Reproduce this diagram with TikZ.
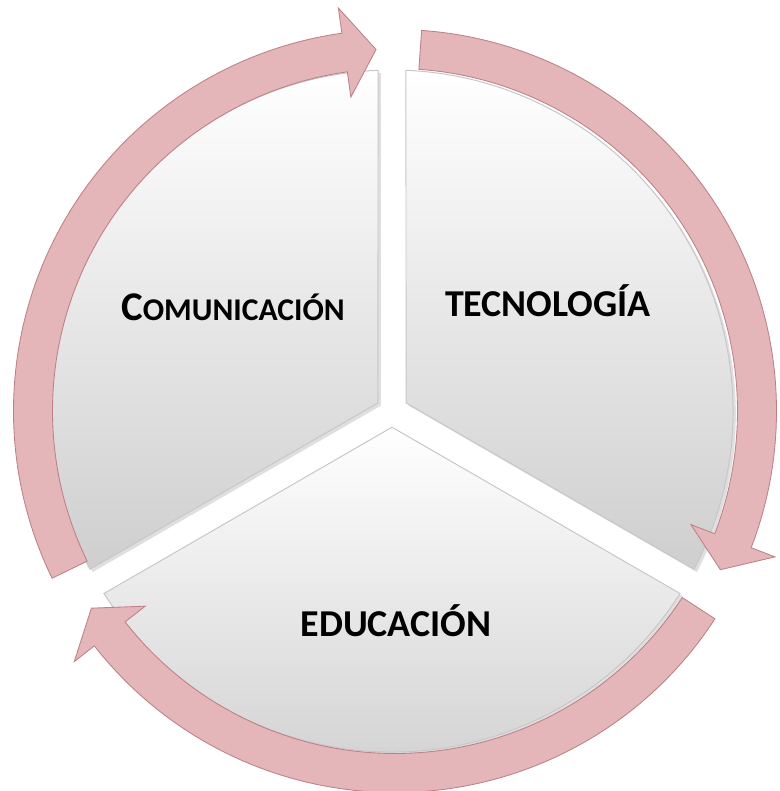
\documentclass[tikz,border=0pt]{standalone}
\usepackage{fontspec}
\setmainfont{Carlito}
\usetikzlibrary{shadows}
\definecolor{ringpink}{RGB}{228,182,185}
\definecolor{ringedge}{RGB}{188,128,133}
\begin{document}
\begin{tikzpicture}[x=0.025cm, y=0.025cm,
    sector/.style={top color=white, bottom color=black!19, draw=black!22, line width=0.7pt,
      drop shadow={opacity=0.25, shadow xshift=2pt, shadow yshift=-2pt}},
    cyclearrow/.style={fill=ringpink, draw=ringedge, line width=0.6pt, line join=miter},
    word/.style={font=\bfseries\fontsize{27}{30}\selectfont, anchor=base, inner sep=0pt}]
  \useasboundingbox (-395,-380) rectangle (384,411);
  \begin{scope}[shift={(-3,0)}]
    \foreach \a in {90,-30,210}
      \path[sector] ({\a+60}:16.2) -- ({\a+2.35}:341)
        arc[start angle={\a+2.35}, end angle={\a+117.65}, radius=341] -- cycle;
  \end{scope}
  \foreach \t/\b/\p in {206/98/93, 86/-21/-26, -33/-142/-147}
    \draw[cyclearrow] (\t:381.5) arc[start angle=\t, end angle=\b, radius=381.5]
      -- (\b:407) -- (\p:362) -- (\b:317) -- (\b:342.5)
      arc[start angle=\b, end angle=\t, radius=342.5] -- cycle;
  \node[word] (com) at (-162,91) {{\fontsize{29}{30}\selectfont C}{\fontsize{22.5}{30}\selectfont OMUNICACIÓN}};
  \node[word] (tec) at (153,95) {TECNOLOGÍA};
  \node[word] (edu) at (1,-225) {EDUCACIÓN};
\end{tikzpicture}
\end{document}
